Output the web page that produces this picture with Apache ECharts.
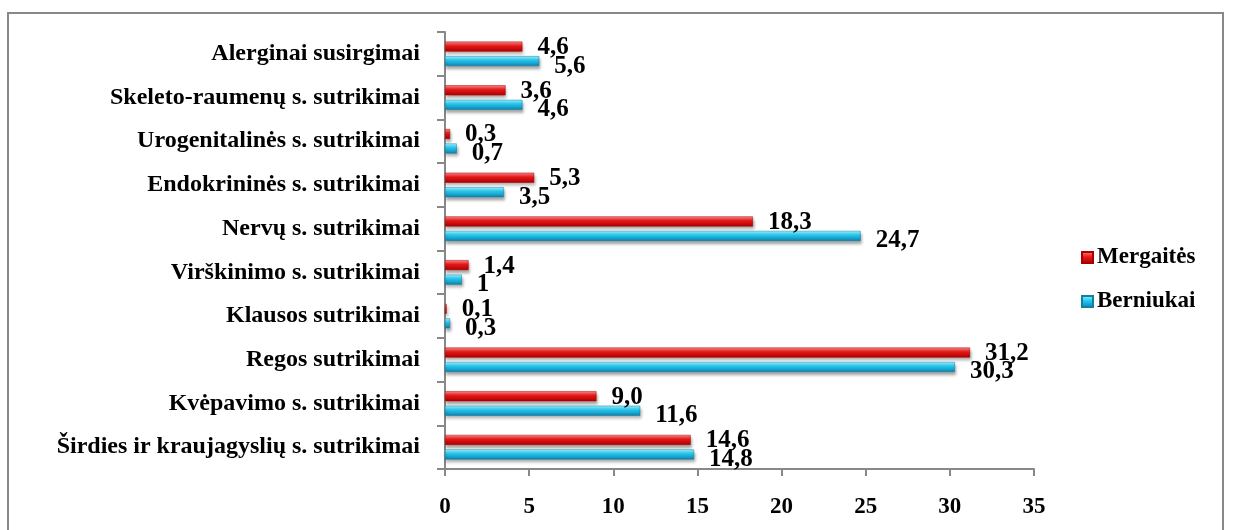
<!DOCTYPE html>
<html>
<head>
<meta charset="utf-8">
<script src="https://cdn.jsdelivr.net/npm/echarts@6/dist/echarts.min.js"></script>
<style>
  html, body { margin: 0; padding: 0; background: #fff; }
  #main { width: 1233px; height: 530px; }
</style>
</head>
<body>
<div id="main"></div>
<script>
// kategorijos (iš apačios į viršų)
var categories = [
    'Širdies ir kraujagyslių s. sutrikimai',
    'Kvėpavimo s. sutrikimai',
    'Regos sutrikimai',
    'Klausos sutrikimai',
    'Virškinimo s. sutrikimai',
    'Nervų s. sutrikimai',
    'Endokrininės s. sutrikimai',
    'Urogenitalinės s. sutrikimai',
    'Skeleto-raumenų s. sutrikimai',
    'Alerginai susirgimai'
];
var mergaites = [14.6, 9.0, 31.2, 0.1, 1.4, 18.3, 5.3, 0.3, 3.6, 4.6];
var berniukai = [14.8, 11.6, 30.3, 0.3, 1, 24.7, 3.5, 0.7, 4.6, 5.6];
var mergaitesLabels = ['14,6', '9,0', '31,2', '0,1', '1,4', '18,3', '5,3', '0,3', '3,6', '4,6'];
var berniukaiLabels = ['14,8', '11,6', '30,3', '0,3', '1', '24,7', '3,5', '0,7', '4,6', '5,6'];
var xTicks = [0, 5, 10, 15, 20, 25, 30, 35];

var font = '"Liberation Serif", "DejaVu Serif", serif';

var myChart = echarts.init(document.getElementById('main'));

function grad(c1, c2, c3) {
    return new echarts.graphic.LinearGradient(0, 0, 0, 1, [
        {offset: 0, color: c1},
        {offset: 0.45, color: c2},
        {offset: 1, color: c3}
    ]);
}

var option = {
    animation: false,
    backgroundColor: '#fff',
    graphic: [{
        type: 'rect',
        shape: {x: 8, y: 13, width: 1215, height: 600},
        style: {fill: 'none', stroke: '#888', lineWidth: 2}
    }],
    grid: {left: 445, right: 199, top: 32, bottom: 61},
    legend: {
        orient: 'vertical',
        left: 1076,
        top: 241,
        itemGap: 21,
        itemWidth: 11,
        itemHeight: 11,
        icon: 'rect',
        data: ['Mergaitės', 'Berniukai'],
        textStyle: {fontFamily: font, fontWeight: 'bold', fontSize: 23, color: '#000', padding: [0, 0, 0, -1]}
    },
    xAxis: {
        type: 'value',
        min: xTicks[0],
        max: xTicks[xTicks.length - 1],
        interval: 5,
        splitLine: {show: false},
        axisLine: {show: true, lineStyle: {color: '#888', width: 2}},
        axisTick: {show: true, length: 7, lineStyle: {color: '#888', width: 2}},
        axisLabel: {
            margin: 27,
            fontFamily: font, fontWeight: 'bold', fontSize: 23, color: '#000'
        }
    },
    yAxis: {
        type: 'category',
        data: categories,
        axisLine: {show: true, lineStyle: {color: '#888', width: 2}},
        axisTick: {show: true, length: 8, lineStyle: {color: '#888', width: 2}},
        axisLabel: {
            margin: 25,
            fontFamily: font, fontWeight: 'bold', fontSize: 24, color: '#000'
        }
    },
    series: [
        {
            name: 'Mergaitės',
            type: 'bar',
            data: mergaites,
            barWidth: 10,
            barGap: '45%',
            itemStyle: {
                color: grad('#ff8a8a', '#ea1717', '#a80000'),
                borderColor: '#a80000',
                borderWidth: 0.5,
                shadowColor: 'rgba(0,0,0,0.35)',
                shadowBlur: 3,
                shadowOffsetX: 1,
                shadowOffsetY: 3
            },
            label: {
                show: true,
                position: 'right',
                distance: 15,
                offset: [0, 1],
                formatter: function (p) { return mergaitesLabels[p.dataIndex]; },
                fontFamily: font, fontWeight: 'bold', fontSize: 25, color: '#000'
            }
        },
        {
            name: 'Berniukai',
            type: 'bar',
            data: berniukai,
            barWidth: 10,
            barGap: '45%',
            itemStyle: {
                color: grad('#9ff3ff', '#22c8f2', '#0e7fa8'),
                borderColor: '#137fa3',
                borderWidth: 0.5,
                shadowColor: 'rgba(0,0,0,0.35)',
                shadowBlur: 3,
                shadowOffsetX: 1,
                shadowOffsetY: 3
            },
            label: {
                show: true,
                position: 'right',
                distance: 15,
                offset: [0, 5],
                formatter: function (p) { return berniukaiLabels[p.dataIndex]; },
                fontFamily: font, fontWeight: 'bold', fontSize: 25, color: '#000'
            }
        }
    ]
};

myChart.setOption(option);
</script>
</body>
</html>
